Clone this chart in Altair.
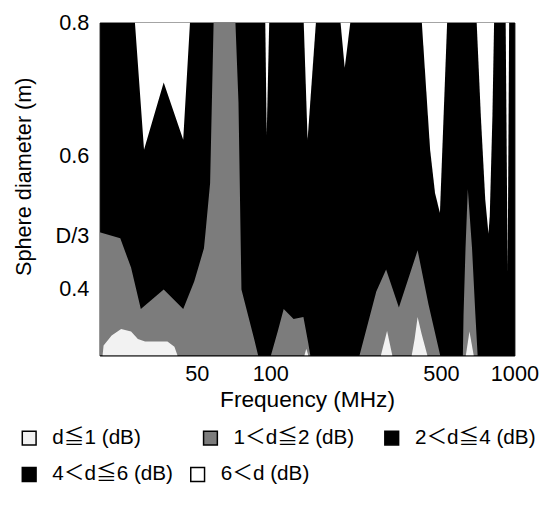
import altair as alt
import pandas as pd

FONT = "'Liberation Sans', Arial, 'Noto Sans CJK JP', sans-serif"

# axis extents and ticks
F_MIN, F_MAX = 20, 1000
D_MIN, D_MAX = 0.3, 0.8
D_THIRD = 0.48
X_TICKS = [50, 100, 500, 1000]
Y_TICKS = [0.4, D_THIRD, 0.6, 0.8]

# legend categories
LEVELS_A = ["d≦1 (dB)", "1＜d≦2 (dB)", "2＜d≦4 (dB)"]
COLORS_A = ["#f2f2f2", "#7c7c7c", "#000000"]
LEVELS_B = ["4＜d≦6 (dB)", "6＜d (dB)"]
COLORS_B = ["#000000", "#ffffff"]

# ---- 6<d regions (hanging from the top edge): frequency (MHz), lower boundary (m)
W1_F = [27.9, 30.4, 36.6, 44.0, 46.9]
W1_D = [0.800, 0.609, 0.710, 0.624, 0.800]
W2_F = [95.4, 96.7, 99.0]
W2_D = [0.800, 0.631, 0.800]
W3_F = [137.1, 142.2, 153.8]
W3_D = [0.800, 0.624, 0.800]
W4_F = [194.0, 201.8, 212.8]
W4_D = [0.800, 0.732, 0.800]
W5_F = [417.6, 451.6, 473.0, 495.4, 530.2]
W5_D = [0.800, 0.609, 0.544, 0.514, 0.800]
W6_F = [700.6, 729.0, 759.4, 783.0, 792.6, 812.6, 825.6]
W6_D = [0.800, 0.658, 0.535, 0.483, 0.510, 0.658, 0.800]
W7_F = [921.0, 938.4, 951.6]
W7_D = [0.800, 0.426, 0.800]

# ---- 1<d<=2 regions (rising from the bottom edge): upper boundary (m)
G1_F = [20.0, 24.3, 26.9, 29.5, 36.6, 44.0, 48.8, 53.5, 54.3, 56.7, 58.6, 72.0, 74.1, 76.2, 85.9, 89.2]
G1_D = [0.485, 0.476, 0.432, 0.370, 0.399, 0.370, 0.411, 0.461, 0.485, 0.559, 0.800, 0.800, 0.680, 0.399, 0.325, 0.300]
G2_F = [100.6, 107.4, 113.5, 124.6, 136.7, 143.2, 145.9]
G2_D = [0.300, 0.337, 0.370, 0.355, 0.358, 0.318, 0.300]
G3_F = [232.0, 271.8, 298.2, 336.4, 401.4, 444.6, 496.8]
G3_D = [0.300, 0.396, 0.429, 0.372, 0.458, 0.377, 0.300]
G4_F = [615.0, 619.0, 630.6, 644.4, 670.6, 692.0, 707.0]
G4_D = [0.300, 0.362, 0.461, 0.550, 0.461, 0.362, 0.300]

# ---- d<=1 regions (rising from the bottom edge): upper boundary (m)
L1_F = [20.56, 20.76, 22.4, 24.5, 26.9, 28.7, 30.7, 37.9, 40.5, 41.7]
L1_D = [0.300, 0.315, 0.330, 0.340, 0.336, 0.325, 0.321, 0.321, 0.313, 0.300]
L2_F = [138.0, 140.5, 143.2]
L2_D = [0.300, 0.310, 0.300]
L3_F = [283.8, 301.0, 316.2]
L3_D = [0.300, 0.337, 0.300]
L4_F = [379.6, 390.2, 401.4, 416.4, 440.2]
L4_D = [0.300, 0.325, 0.358, 0.333, 0.300]
L5_F = [632.5, 654.6, 681.4]
L5_D = [0.300, 0.336, 0.300]


def frame(blobs, level, base):
    rows = []
    for name, (fs, ds) in blobs.items():
        for f, d in zip(fs, ds):
            rows.append({"freq": f, "edge": d, "base": base, "level": level, "blob": name})
    return pd.DataFrame(rows)


white_df = frame({"w1": (W1_F, W1_D), "w2": (W2_F, W2_D), "w3": (W3_F, W3_D),
                  "w4": (W4_F, W4_D), "w5": (W5_F, W5_D), "w6": (W6_F, W6_D),
                  "w7": (W7_F, W7_D)}, LEVELS_B[1], D_MAX)
gray_df = frame({"g1": (G1_F, G1_D), "g2": (G2_F, G2_D), "g3": (G3_F, G3_D),
                 "g4": (G4_F, G4_D)}, LEVELS_A[1], D_MIN)
light_df = frame({"l1": (L1_F, L1_D), "l2": (L2_F, L2_D), "l3": (L3_F, L3_D),
                  "l4": (L4_F, L4_D), "l5": (L5_F, L5_D)}, LEVELS_A[0], D_MIN)

x_enc = alt.X(
    "freq:Q",
    scale=alt.Scale(type="log", domain=[F_MIN, F_MAX], nice=False),
    axis=alt.Axis(values=X_TICKS, format="d", title="Frequency (MHz)", grid=False,
                  ticks=False, tickSize=0, domain=False, labelFlush=False,
                  labelOverlap=False, labelPadding=8, titlePadding=5,
                  labelFontSize=22, titleFontSize=23, titleFontWeight="normal"),
)
y_enc = alt.Y(
    "edge:Q",
    scale=alt.Scale(domain=[D_MIN, D_MAX], nice=False, zero=False),
    axis=alt.Axis(values=Y_TICKS,
                  labelExpr="abs(datum.value - 0.48) < 0.001 ? 'D/3' : format(datum.value, '.1f')",
                  title="Sphere diameter (m)", grid=False, ticks=False, tickSize=0,
                  domain=False, labelOverlap=False, labelPadding=11, titlePadding=20,
                  labelFontSize=22, titleFontSize=22, titleFontWeight="normal", titleY=156),
)

common_legend = dict(title=None, orient="none", direction="horizontal", symbolType="square",
                     symbolSize=196, symbolStrokeColor="black", symbolStrokeWidth=1.5,
                     symbolOpacity=1, labelFontSize=21, labelOffset=13, labelLimit=300,
                     labelFont=FONT, legendX=-82)
legend_a = alt.Legend(legendY=411, columnPadding=27, gridAlign="all", **common_legend)
legend_b = alt.Legend(legendY=448, columnPadding=14, gridAlign="each", **common_legend)

fill_a = alt.Fill("level:N", scale=alt.Scale(domain=LEVELS_A, range=COLORS_A), legend=legend_a, sort=LEVELS_A)
fill_b = alt.Fill("level:N", scale=alt.Scale(domain=LEVELS_B, range=COLORS_B), legend=legend_b, sort=LEVELS_B)

gray = alt.Chart(gray_df).mark_area(clip=True, opacity=1).encode(
    x=x_enc, y=y_enc, y2=alt.Y2("base:Q"), fill=fill_a, detail="blob:N")
light = alt.Chart(light_df).mark_area(clip=True, opacity=1).encode(
    x=x_enc, y=y_enc, y2=alt.Y2("base:Q"), fill=fill_a, detail="blob:N")
white = alt.Chart(white_df).mark_area(clip=True, opacity=1).encode(
    x=x_enc, y=y_enc, y2=alt.Y2("base:Q"), fill=fill_b, detail="blob:N")

chart = (
    alt.layer(alt.layer(gray, light), white)
    .resolve_scale(fill="independent")
    .properties(width=421, height=338,
                autosize=alt.AutoSizeParams(type="none"),
                padding={"left": 93, "top": 11, "right": 27, "bottom": 150})
    .configure_view(fill="black", stroke="black", strokeWidth=1)
    .configure_axis(labelFont=FONT, titleFont=FONT, labelColor="black", titleColor="black")
    .configure_legend(labelColor="black")
)

chart.save("out.html", embed_options={"renderer": "svg", "actions": False})
